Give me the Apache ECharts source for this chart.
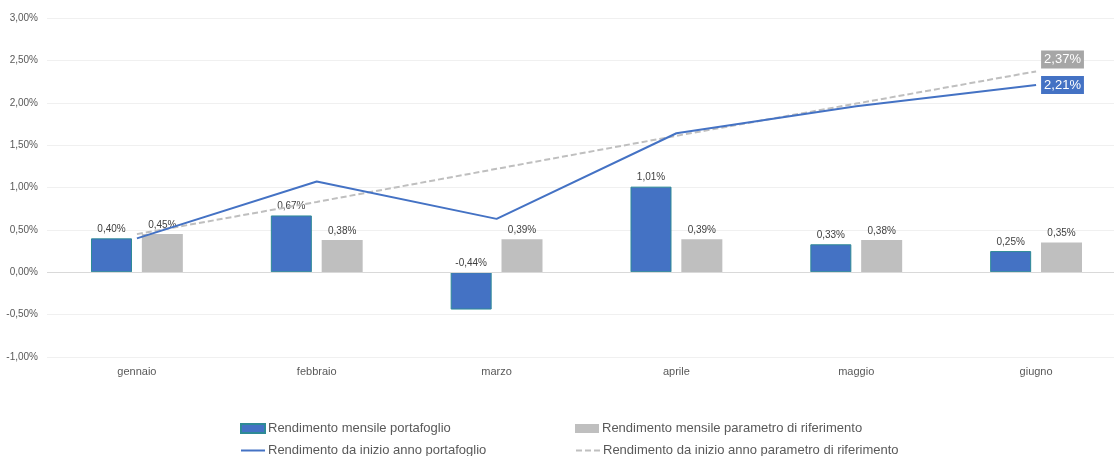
<!DOCTYPE html>
<html lang="it">
<head>
    <meta charset="UTF-8" />
    <title>Rendimenti</title>
    <script src="https://cdn.jsdelivr.net/npm/echarts@6.0.0/dist/echarts.min.js"></script>
    <style>
        html, body { margin: 0; padding: 0; background: #fff; }
        #main { width: 1114px; height: 456px; }
    </style>
</head>
<body>
    <div id="main"></div>
    <script type="text/javascript">
        // months
        const categories = ["gennaio", "febbraio", "marzo", "aprile", "maggio", "giugno"];
        // monthly returns (%)
        const monthlyPortfolio = [0.40, 0.67, -0.44, 1.01, 0.33, 0.25];
        const monthlyBenchmark = [0.45, 0.38, 0.39, 0.39, 0.38, 0.35];
        // year-to-date returns (%)
        const ytdPortfolio = [0.40, 1.07, 0.63, 1.64, 1.96, 2.21];
        const ytdBenchmark = [0.45, 0.83, 1.22, 1.61, 1.99, 2.37];

        const names = [
            "Rendimento mensile portafoglio",
            "Rendimento mensile parametro di riferimento",
            "Rendimento da inizio anno portafoglio",
            "Rendimento da inizio anno parametro di riferimento"
        ];

        const FONT = "Liberation Sans";
        const fmt = (v) => v.toFixed(2).replace(".", ",") + "%";

        function endLabel(bg, dy) {
            return {
                show: true, distance: 5, offset: [0, dy],
                formatter: (p) => fmt(p.value),
                color: "#fff", backgroundColor: bg,
                fontFamily: FONT, fontSize: 13,
                padding: [3, 3, 2, 3]
            };
        }

        const barLabel = {
            show: true, position: "top", distance: 4,
            formatter: (p) => fmt(p.value),
            color: "#404040", fontFamily: FONT, fontSize: 10
        };

        // one legend per item so the 2x2 layout is fixed
        function legendItem(name, left, top, isLine) {
            const item = { name: name };
            if (isLine) {
                item.itemStyle = { opacity: 0 };
            } else {
                item.icon = "rect";
            }
            return {
                left: left, top: top,
                itemWidth: 24, itemHeight: 9,
                textStyle: { color: "#595959", fontFamily: FONT, fontSize: 13, padding: [0, 0, 0, -2] },
                data: [item]
            };
        }

        let options = {
            animation: false,
            backgroundColor: "#fff",
            // plot area runs past the right edge (cropped chart)
            grid: { left: 47, width: 1079, top: 18, bottom: 99, outerBoundsMode: "none" },
            legend: [
                legendItem(names[0], 235, 417, false),
                legendItem(names[2], 235, 439, true),
                legendItem(names[1], 570, 417, false),
                legendItem(names[3], 570, 439, true)
            ],
            xAxis: {
                type: "category",
                data: categories,
                axisLine: { show: false },
                axisTick: { show: false },
                axisLabel: { color: "#595959", fontFamily: FONT, fontSize: 11, margin: 9 }
            },
            yAxis: {
                type: "value",
                min: -1, max: 3, interval: 0.5,
                axisLabel: {
                    color: "#595959", fontFamily: FONT, fontSize: 10, margin: 9,
                    formatter: (v) => fmt(v)
                },
                axisLine: { show: false },
                axisTick: { show: false },
                splitLine: { lineStyle: { color: "#f0f0f0", width: 1 } }
            },
            series: [
                {
                    name: names[0], type: "bar",
                    data: monthlyPortfolio,
                    barWidth: 41, barGap: "24%",
                    itemStyle: { color: "#4472C4", borderColor: "#2e8a96", borderWidth: 1 },
                    label: barLabel,
                    markLine: {
                        silent: true, symbol: "none", label: { show: false },
                        lineStyle: { color: "#d9d9d9", width: 1, type: "solid" },
                        data: [{ yAxis: 0 }]
                    },
                    z: 2
                },
                {
                    name: names[1], type: "bar",
                    data: monthlyBenchmark,
                    barWidth: 41,
                    itemStyle: { color: "#BFBFBF" },
                    label: barLabel,
                    z: 2
                },
                {
                    name: names[2], type: "line",
                    data: ytdPortfolio,
                    symbol: "none",
                    lineStyle: { color: "#4472C4", width: 2 },
                    itemStyle: { color: "#4472C4" },
                    endLabel: endLabel("#4472C4", 0),
                    z: 4
                },
                {
                    name: names[3], type: "line",
                    data: ytdBenchmark,
                    symbol: "none",
                    lineStyle: { color: "#BFBFBF", width: 2, type: [6, 3] },
                    itemStyle: { color: "#BFBFBF" },
                    endLabel: endLabel("#A6A6A6", -12),
                    z: 3
                }
            ]
        };

        let myChart = echarts.init(document.getElementById("main"));
        myChart.setOption(options);
    </script>
</body>
</html>
